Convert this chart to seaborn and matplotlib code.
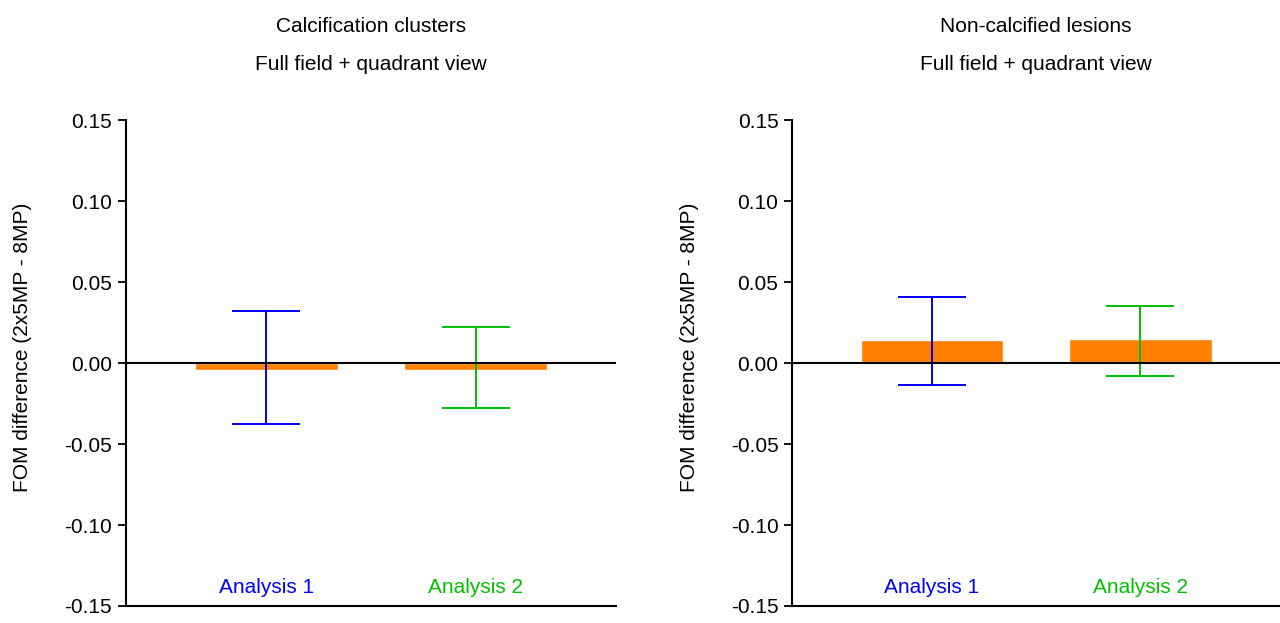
import numpy as np
import pandas as pd
import seaborn as sns
import matplotlib.pyplot as plt
from matplotlib.ticker import FormatStrFormatter

sns.set_style("white")
plt.rcParams["font.family"] = ["Liberation Sans", "DejaVu Sans"]
plt.rcParams["axes.unicode_minus"] = False
plt.rcParams["text.color"] = "black"
plt.rcParams["axes.labelcolor"] = "black"
plt.rcParams["ytick.color"] = "black"

# Data
analyses = ["Analysis 1", "Analysis 2"]
label_colors = ["#0000FF", "#00C000"]

calc_mean = [-0.004, -0.0045]
calc_low = [-0.0377, -0.028]
calc_high = [0.032, 0.0224]

noncalc_mean = [0.0144, 0.015]
noncalc_low = [-0.0136, -0.0082]
noncalc_high = [0.0407, 0.0354]

panels = [
    ("Calcification clusters\nFull field + quadrant view", calc_mean, calc_low, calc_high),
    ("Non-calcified lesions\nFull field + quadrant view", noncalc_mean, noncalc_low, noncalc_high),
]
yticks = [-0.15, -0.10, -0.05, 0.00, 0.05, 0.10, 0.15]
ylabel = "FOM difference (2x5MP - 8MP)"

fig = plt.figure(figsize=(12.8, 6.23), dpi=100)
axes = [fig.add_axes([0.0984, 0.0273, 0.383, 0.780]),
        fig.add_axes([0.619, 0.0273, 0.381, 0.780])]

for ax, (title, mean, low, high) in zip(axes, panels):
    df = pd.DataFrame({"analysis": analyses, "diff": mean})
    sns.barplot(data=df, x="analysis", y="diff", color="#FF8000", saturation=1,
                width=0.684, ax=ax)
    for i, name in enumerate(analyses):
        m = mean[i]
        ax.errorbar(i, m, yerr=[[m - low[i]], [high[i] - m]], color=label_colors[i],
                    capsize=24.5, elinewidth=1.4, capthick=1.4, fmt="none")
        ax.text(i, -0.1385, name, color=label_colors[i], ha="center", va="center",
                fontsize=15)
    ax.axhline(0, color="black", lw=1.5, zorder=3)
    ax.set_xlim(-0.67, 1.67)
    ax.set_ylim(-0.15, 0.15)
    ax.set_yticks(yticks)
    ax.yaxis.set_major_formatter(FormatStrFormatter("%.2f"))
    ax.set_xticks([])
    ax.set_xlabel("")
    ax.set_ylabel(ylabel, fontsize=15)
    ax.yaxis.set_label_coords(-0.192, 0.533)
    ax.tick_params(axis="y", direction="out", length=6, width=1.3, labelsize=15,
                   left=True, color="black", pad=4)
    for s in ["top", "right"]:
        ax.spines[s].set_visible(False)
    for s in ["left", "bottom"]:
        ax.spines[s].set_color("black")
        ax.spines[s].set_linewidth(1.5)
    ax.set_title(title, fontsize=15, linespacing=2.25, pad=36)

plt.savefig("out.png", dpi=100)
